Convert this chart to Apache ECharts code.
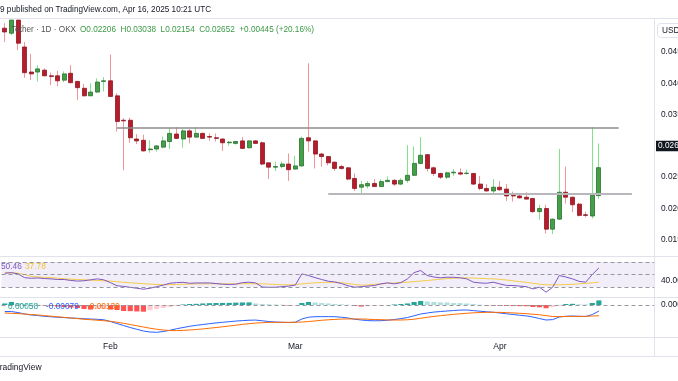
<!DOCTYPE html>
<html><head><meta charset="utf-8">
<script src="https://cdn.jsdelivr.net/npm/echarts@6/dist/echarts.min.js"></script>
<style>html,body{margin:0;padding:0;background:#fff;overflow:hidden}#c{width:678px;height:381px}</style>
</head><body><div id="c"></div>
<script>
// ---- data ----
const startDay = [2025, 0, 16];
const slotCount = 99;
const monthTicks = {'2025-02-01': 'Feb', '2025-03-01': 'Mar', '2025-04-01': 'Apr'};

const opens  = [0.0488,0.0480,0.0501,0.0458,0.0418,0.0418,0.0421,0.0412,0.0412,0.0405,0.0416,0.0403,0.0392,0.0380,0.0386,0.0403,0.0404,0.0380,0.0341,0.0341,
                0.0311,0.0309,0.0294,0.0295,0.0298,0.0307,0.0319,0.0311,0.0324,0.0314,0.0320,0.0315,0.0313,0.0311,0.0305,0.0304,0.0308,0.0297,0.0308,0.0305,
                0.0273,0.0266,0.0267,0.0271,0.0263,0.0268,0.0313,0.0308,0.0287,0.0283,0.0274,0.0267,0.0265,0.0248,0.0234,0.0236,0.0240,0.0235,0.0243,0.0245,
                0.0239,0.0245,0.0253,0.0272,0.0286,0.0265,0.0256,0.0250,0.0257,0.0257,0.0256,0.0256,0.0239,0.0232,0.0228,0.0234,0.0231,0.0221,0.0220,0.0218,
                0.0216,0.0195,0.0200,0.0167,0.0183,0.0226,0.0218,0.0207,0.0190,0.0188,0.02206];
const highs  = [0.0496,0.0501,0.0501,0.0466,0.0447,0.0429,0.0424,0.0417,0.0420,0.0419,0.0429,0.0404,0.0399,0.0400,0.0408,0.0410,0.0446,0.0384,0.0344,0.0345,
                0.0319,0.0318,0.0309,0.0301,0.0315,0.0329,0.0330,0.0327,0.0327,0.0330,0.0321,0.0320,0.0320,0.0312,0.0308,0.0308,0.0314,0.0309,0.0309,0.0307,
                0.0273,0.0275,0.0275,0.0288,0.0284,0.0315,0.0432,0.0309,0.0289,0.0284,0.0275,0.0270,0.0266,0.0256,0.0244,0.0244,0.0247,0.0247,0.0251,0.0247,
                0.0248,0.0301,0.0299,0.0314,0.0287,0.0267,0.0257,0.0259,0.0263,0.0264,0.0262,0.0256,0.0252,0.0239,0.0247,0.0244,0.0239,0.0227,0.0223,0.0226,
                0.0217,0.0206,0.0206,0.0184,0.0295,0.0267,0.0219,0.0209,0.0195,0.0330,0.03038];
const lows   = [0.0466,0.0477,0.0453,0.0409,0.0405,0.0403,0.0411,0.0397,0.0395,0.0402,0.0400,0.0373,0.0379,0.0380,0.0385,0.0387,0.0378,0.0323,0.0261,0.0305,
                0.0303,0.0291,0.0289,0.0291,0.0296,0.0295,0.0311,0.0297,0.0304,0.0314,0.0311,0.0308,0.0307,0.0292,0.0300,0.0302,0.0295,0.0296,0.0303,0.0269,
                0.0247,0.0260,0.0264,0.0244,0.0262,0.0267,0.0291,0.0264,0.0267,0.0269,0.0260,0.0262,0.0245,0.0228,0.0223,0.0232,0.0235,0.0235,0.0242,0.0236,
                0.0237,0.0241,0.0252,0.0271,0.0259,0.0252,0.0247,0.0247,0.0252,0.0253,0.0254,0.0238,0.0229,0.0227,0.0223,0.0228,0.0212,0.0211,0.0216,0.0215,
                0.0193,0.0182,0.0160,0.0159,0.0182,0.0208,0.0194,0.0187,0.0186,0.0184,0.02154];
const closes = [0.0482,0.0501,0.0464,0.0417,0.0415,0.0423,0.0412,0.0411,0.0404,0.0415,0.0401,0.0393,0.0380,0.0386,0.0402,0.0404,0.0379,0.0339,0.0340,0.0313,
                0.0308,0.0292,0.0295,0.0300,0.0308,0.0320,0.0312,0.0324,0.0314,0.0320,0.0312,0.0314,0.0312,0.0305,0.0306,0.0307,0.0296,0.0308,0.0304,0.0271,
                0.0266,0.0267,0.0271,0.0262,0.0268,0.0312,0.0308,0.0287,0.0283,0.0273,0.0264,0.0264,0.0247,0.0232,0.0238,0.0240,0.0235,0.0243,0.0245,0.0239,
                0.0245,0.0253,0.0272,0.0285,0.0264,0.0256,0.0250,0.0257,0.0258,0.0255,0.02565,0.0239,0.0232,0.0228,0.0234,0.0230,0.0220,0.0220,0.0217,0.0215,
                0.0195,0.0200,0.0167,0.0183,0.0226,0.0218,0.0206,0.0189,0.0189,0.0221,0.02652];

// horizontal levels drawn on the price pane: [startIndex, endIndex, price]
const resistanceLevel = [17, 93, 0.03297];
const supportLevel    = [49, 95, 0.02236];

const rsi   = [52,53,51,45,44,44.5,43.5,43,42,42,40.5,39.5,40,41.5,43,41.5,37,32,31,29.5,
               28,26.5,28,30.5,33,36,37,37.5,36,36.5,36.5,36.5,35.5,34.5,34,34.5,37,37.7,36.5,30,
               29.5,29.7,30.5,31.5,33,51,48.4,45,42,39.3,38,35.5,32,29.7,30.5,31.5,32.4,35,36.7,35,
               37,43,53,56.4,48.4,46,44.7,45.7,45.5,44.7,43,37.7,36.5,36,37.7,35,32.5,32.4,31.5,30.5,
               27,29.7,21.7,29.7,48.4,46,43,39,37.7,50,60.5];
const rsiMa = [53.5,52.5,52,50,47,46,45.5,45,44,43.2,42.5,42,41.5,41,40.5,40,39.5,38.5,37.5,36.7,
               36,35.3,34.6,34,33.8,33.8,34,34.3,34.6,34.9,35.1,35.2,35.2,35.1,35.1,35.1,35.2,35.2,35.1,35.1,
               34.6,34.1,33.6,33.4,33.8,35,36,36.7,37.2,37.5,37.7,37,35.5,34,33,33.3,34.2,35.1,35.8,36.5,
               37,37.7,38.6,39.5,40.4,41.5,42.5,43.3,44,44.7,44.6,44.3,43.8,43.4,43,42.2,41.2,40,38.5,37.5,
               36,34.5,33.5,33.3,33.5,33.9,34.3,35.1,35.8,36.7,37.78];

const macd   = [-0.00085,-0.00085,-0.00098,-0.00117,-0.00130,-0.00137,-0.00147,-0.00153,-0.00159,-0.00164,-0.00169,-0.00173,-0.00179,-0.00182,-0.00186,-0.00192,-0.00215,-0.00241,-0.00267,-0.00293,
                -0.00316,-0.00338,-0.00351,-0.00355,-0.00345,-0.00329,-0.00309,-0.00293,-0.00277,-0.00264,-0.00254,-0.00243,-0.00233,-0.00225,-0.00217,-0.00209,-0.00203,-0.00198,-0.00196,-0.00205,
                -0.00215,-0.00221,-0.00225,-0.00228,-0.00224,-0.00182,-0.00159,-0.00152,-0.00151,-0.00151,-0.00152,-0.00159,-0.00169,-0.00185,-0.00195,-0.00203,-0.00205,-0.00204,-0.00198,-0.00189,
                -0.00177,-0.00163,-0.00140,-0.00117,-0.00104,-0.00092,-0.00085,-0.00078,-0.00072,-0.00066,-0.00065,-0.00073,-0.00081,-0.00088,-0.00094,-0.00104,-0.00114,-0.00124,-0.00133,-0.00142,
                -0.00156,-0.00176,-0.00195,-0.00190,-0.00156,-0.00146,-0.00143,-0.00147,-0.00150,-0.00124,-0.00079];
const signal = [-0.00104,-0.00108,-0.00112,-0.00117,-0.00124,-0.00130,-0.00138,-0.00146,-0.00153,-0.00161,-0.00169,-0.00177,-0.00185,-0.00191,-0.00198,-0.00204,-0.00212,-0.00224,-0.00238,-0.00254,
                -0.00270,-0.00286,-0.00302,-0.00315,-0.00325,-0.00332,-0.00333,-0.00330,-0.00325,-0.00319,-0.00311,-0.00302,-0.00293,-0.00283,-0.00273,-0.00263,-0.00252,-0.00243,-0.00235,-0.00230,
                -0.00226,-0.00225,-0.00225,-0.00225,-0.00225,-0.00221,-0.00215,-0.00207,-0.00199,-0.00192,-0.00187,-0.00183,-0.00181,-0.00181,-0.00182,-0.00185,-0.00189,-0.00191,-0.00194,-0.00195,
                -0.00195,-0.00192,-0.00185,-0.00172,-0.00160,-0.00148,-0.00139,-0.00130,-0.00122,-0.00114,-0.00108,-0.00101,-0.00098,-0.00095,-0.00095,-0.00096,-0.00099,-0.00103,-0.00108,-0.00113,
                -0.00120,-0.00127,-0.00138,-0.00150,-0.00151,-0.00150,-0.00148,-0.00148,-0.00147,-0.00143,-0.00139];
const hist   = [0.00020,0.00039,0.00026,0.00013,0.00007,0.00004,-0.00007,-0.00013,-0.00020,-0.00026,-0.00033,-0.00039,-0.00052,-0.00059,-0.00052,-0.00052,-0.00059,-0.00065,-0.00078,-0.00080,
                -0.00084,-0.00087,-0.00068,-0.00052,-0.00039,-0.00026,-0.00013,0.00007,0.00013,0.00015,0.00020,0.00024,0.00026,0.00027,0.00028,0.00031,0.00033,0.00034,0.00020,0.00013,
                0.00009,0.00006,0.00004,-0.00007,-0.00004,0.00026,0.00039,0.00033,0.00026,0.00020,0.00013,0.00009,0.00003,-0.00013,-0.00020,-0.00016,-0.00013,-0.00009,-0.00004,0.00007,
                0.00013,0.00020,0.00039,0.00052,0.00046,0.00039,0.00034,0.00033,0.00026,0.00025,0.00020,0.00013,0.00004,-0.00007,-0.00009,-0.00011,-0.00013,-0.00014,-0.00015,-0.00016,
                -0.00026,-0.00030,-0.00042,-0.00026,-0.00007,0.00013,0.00015,0.00010,0.00007,0.00026,0.00060];

const priceTicks = [0.015, 0.020, 0.025, 0.030, 0.035, 0.040, 0.045];
const rsiTicks = [40];
const macdTicks = [0];

// ---- build ----
const categories = [];
const d0 = Date.UTC(startDay[0], startDay[1], startDay[2]);
for (let i = 0; i < slotCount; i++) categories.push(new Date(d0 + i * 86400000).toISOString().slice(0, 10));

const last = closes.length - 1;
const FONT = "'Liberation Sans', Arial, sans-serif";
const TXT = '#131722';
const UP = '#43a047', UP_B = '#2b6e30', UP_W = '#7fe38a';
const DN = '#b71c2c', DN_B = '#8e1620', DN_W = '#f2959b';

const wickData = opens.map((o, i) => [o, closes[i], lows[i], highs[i]]);
const bodyData = opens.map((o, i) => [o, closes[i], Math.min(o, closes[i]), Math.max(o, closes[i])]);

function xAx(gi, showLabel) {
  return {
    type: 'category', gridIndex: gi, data: categories, boundaryGap: true,
    axisLine: {show: false}, axisTick: {show: false}, splitLine: {show: false},
    axisLabel: showLabel ? {
      show: true, interval: (idx, v) => monthTicks[v] !== undefined,
      formatter: v => monthTicks[v] || '', margin: 5, fontSize: 8.5, color: TXT, fontFamily: FONT
    } : {show: false}
  };
}
function yAx(gi, min, max, interval, ticks, fmt) {
  return {
    type: 'value', gridIndex: gi, position: 'right', min, max, interval, scale: true,
    axisLine: {show: false}, axisTick: {show: false}, splitLine: {show: false},
    axisLabel: {
      margin: 6, fontSize: 8.3, color: TXT, fontFamily: FONT, align: 'left',
      formatter: v => { for (const t of ticks) if (Math.abs(v - t) < interval / 10) return fmt(t); return ''; }
    }
  };
}
const hLine = y => ({type: 'line', silent: true, z: 100, shape: {x1: 0, y1: y, x2: 678, y2: y}, style: {stroke: '#e0e3eb', lineWidth: 1}});
const gridBase = {left: 1.5, right: 23, containLabel: false, outerBoundsMode: 'none'};

const option = {
  animation: false,
  backgroundColor: '#ffffff',
  textStyle: {fontFamily: FONT},
  grid: [
    Object.assign({top: 20.7, height: 250.4}, gridBase),
    Object.assign({top: 257, height: 40}, gridBase),
    Object.assign({top: 297, height: 40}, gridBase)
  ],
  xAxis: [xAx(0, false), xAx(1, false), xAx(2, true)],
  yAxis: [
    yAx(0, 0.010, 0.050, 0.005, priceTicks, t => t.toFixed(3)),
    yAx(1, 14, 78, 2, rsiTicks, t => t.toFixed(2)),
    yAx(2, -0.00416, 0.00104, 0.00004, macdTicks, t => t.toFixed(3))
  ],
  series: [
    {
      type: 'candlestick', xAxisIndex: 0, yAxisIndex: 0, data: wickData, barWidth: 1, clip: false,
      itemStyle: {color: UP_W, color0: DN_W, borderColor: UP_W, borderColor0: DN_W, borderColorDoji: UP_W, borderWidth: 1},
      markLine: {
        silent: true, symbol: 'none', animation: false, label: {show: false},
        lineStyle: {color: '#8c8c8c', width: 1.5, type: 'solid'},
        data: [[{coord: [categories[resistanceLevel[0]], resistanceLevel[2]]}, {coord: [categories[resistanceLevel[1]], resistanceLevel[2]]}]]
      }
    },
    {
      type: 'candlestick', xAxisIndex: 0, yAxisIndex: 0, data: bodyData, barWidth: 4.5, clip: false,
      itemStyle: {color: UP, color0: DN, borderColor: UP_B, borderColor0: DN_B, borderColorDoji: DN_B, borderWidth: 0.8},
      markLine: {
        silent: true, symbol: 'none', animation: false, label: {show: false},
        lineStyle: {color: '#b8b8bc', width: 2, type: 'solid'},
        data: [[{coord: [categories[supportLevel[0]], supportLevel[2]]}, {coord: [categories[supportLevel[1]], supportLevel[2]]}]]
      }
    },
    {
      type: 'line', xAxisIndex: 0, yAxisIndex: 0, data: closes, symbol: 'none', silent: true,
      lineStyle: {color: 'rgba(0,0,0,0)', width: 0}, z: 5,
      markLine: {
        silent: true, symbol: 'none', animation: false,
        lineStyle: {color: 'rgba(0,0,0,0)', width: 1},
        label: {show: true, position: 'end', distance: 1, formatter: closes[last].toFixed(5),
                color: '#ffffff', backgroundColor: TXT, padding: [1.5, 2, 1, 2], fontSize: 8.3, fontFamily: FONT},
        data: [{yAxis: closes[last]}]
      }
    },
    {
      type: 'line', xAxisIndex: 1, yAxisIndex: 1, data: rsi, symbol: 'none',
      lineStyle: {color: '#7e57c2', width: 1}, z: 3,
      markArea: {silent: true, itemStyle: {color: 'rgba(126,87,194,0.1)'}, data: [[{yAxis: 30}, {yAxis: 70}]]},
      markLine: {silent: true, symbol: 'none', label: {show: false},
        lineStyle: {color: '#9598a1', width: 1, type: [4, 3]}, data: [{yAxis: 70}, {yAxis: 50}, {yAxis: 30}]}
    },
    {
      type: 'line', xAxisIndex: 1, yAxisIndex: 1, data: rsiMa, symbol: 'none',
      lineStyle: {color: '#f5cc4a', width: 1}, z: 2
    },
    {
      type: 'bar', xAxisIndex: 2, yAxisIndex: 2, data: hist, barWidth: '78%',
      itemStyle: {color: p => {
        const i = p.dataIndex, v = hist[i], pv = i > 0 ? hist[i - 1] : 0;
        if (v >= 0) return v >= pv ? '#26a69a' : '#b2dfdb';
        return v < pv ? '#ff5252' : '#ffcdd2';
      }},
      markLine: {silent: true, symbol: 'none', label: {show: false},
        lineStyle: {color: '#9598a1', width: 1, type: [4, 3]}, data: [{yAxis: 0}]}
    },
    {type: 'line', xAxisIndex: 2, yAxisIndex: 2, data: macd, symbol: 'none', lineStyle: {color: '#2962ff', width: 1}},
    {type: 'line', xAxisIndex: 2, yAxisIndex: 2, data: signal, symbol: 'none', lineStyle: {color: '#ff6d00', width: 1}}
  ],
  graphic: [
    hLine(18.5), hLine(256.5), hLine(297.5), hLine(337.5), hLine(356.5),
    {type: 'line', silent: true, z: 100, shape: {x1: 654.5, y1: 18, x2: 654.5, y2: 357}, style: {stroke: '#e0e3eb', lineWidth: 1}},
    {type: 'rect', z: 100, shape: {x: 657.5, y: 23.5, width: 26, height: 14, r: 3}, style: {fill: '#fff', stroke: '#e0e3eb', lineWidth: 1}},
    {type: 'text', z: 101, x: 662, y: 31, style: {text: 'USD', fontSize: 8.3, fill: TXT, fontFamily: FONT, verticalAlign: 'middle'}},
    {type: 'text', z: 101, x: 0, y: 10, style: {text: '9 published on TradingView.com, Apr 16, 2025 10:21 UTC', fontSize: 8.2, fill: TXT, fontFamily: FONT, verticalAlign: 'middle'}},
    {type: 'text', z: 101, x: 11, y: 29.5, style: {text: 'Tether · 1D · OKX', fontSize: 8.2, fill: '#555', fontFamily: FONT, verticalAlign: 'middle'}},
    {type: 'text', z: 101, x: 80, y: 29.5, style: {
      text: 'O' + opens[last].toFixed(5) + '  H' + highs[last].toFixed(5) + '  L' + lows[last].toFixed(5) + '  C' + closes[last].toFixed(5) + '  +0.00445 (+20.16%)',
      fontSize: 8.2, fill: '#3a9a45', fontFamily: FONT, verticalAlign: 'middle'}},
    {type: 'text', z: 101, x: 1, y: 267, style: {text: '50.46', fontSize: 8.3, fill: '#7e57c2', fontFamily: FONT, verticalAlign: 'middle'}},
    {type: 'text', z: 101, x: 25, y: 267, style: {text: rsiMa[last].toFixed(2), fontSize: 8.3, fill: '#f2c230', fontFamily: FONT, verticalAlign: 'middle'}},
    {type: 'text', z: 101, x: 8, y: 307, style: {text: '0.00058', fontSize: 8.3, fill: '#26a69a', fontFamily: FONT, verticalAlign: 'middle'}},
    {type: 'text', z: 101, x: 46, y: 307, style: {text: macd[last].toFixed(5), fontSize: 8.3, fill: '#2962ff', fontFamily: FONT, verticalAlign: 'middle'}},
    {type: 'text', z: 101, x: 87, y: 307, style: {text: signal[last].toFixed(5), fontSize: 8.3, fill: '#ff6d00', fontFamily: FONT, verticalAlign: 'middle'}},
    {type: 'text', z: 101, x: -5.2, y: 368, style: {text: 'TradingView', fontSize: 8.5, fill: TXT, fontFamily: FONT, verticalAlign: 'middle'}}
  ]
};
const chart = echarts.init(document.getElementById('c'), null, {renderer: 'canvas'});
chart.setOption(option);
</script>
</body></html>
